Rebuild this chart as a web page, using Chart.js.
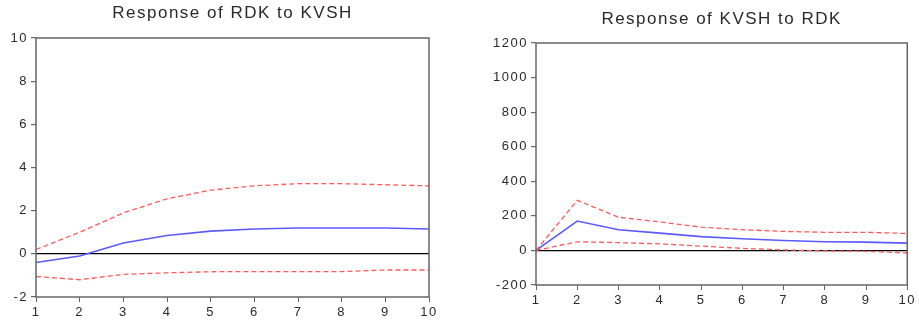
<!DOCTYPE html>
<html>
<head>
<meta charset="utf-8">
<script src="https://cdn.jsdelivr.net/npm/chart.js@4"></script>
<style>
  body { margin: 0; background: #fff; }
  .box { position: absolute; top: 0; height: 324px; }
</style>
</head>
<body>
<div class="box" style="left:0;width:460px"><canvas id="left" width="460" height="324"></canvas></div>
<div class="box" style="left:460px;width:459px"><canvas id="right" width="459" height="324"></canvas></div>
<script>
// impulse response periods
const periods = ["1", "2", "3", "4", "5", "6", "7", "8", "9", "10"];

// Response of RDK to KVSH
const rdkResp  = [-0.4, -0.1, 0.5, 0.85, 1.05, 1.15, 1.2, 1.2, 1.2, 1.15];
const rdkUpper = [0.2, 1.0, 1.9, 2.55, 2.95, 3.15, 3.25, 3.25, 3.2, 3.15];
const rdkLower = [-1.05, -1.2, -0.95, -0.88, -0.83, -0.82, -0.82, -0.82, -0.75, -0.75];

// Response of KVSH to RDK
const kvshResp  = [0, 170, 120, 100, 80, 68, 57, 50, 48, 42];
const kvshUpper = [0, 290, 192, 165, 135, 120, 110, 105, 105, 98];
const kvshLower = [0, 50, 45, 38, 25, 12, 3, -3, -5, -15];

const frameColor = '#666';
const textColor = '#2a2a2a';

const spacing = {
    id: 'spacing',
    beforeUpdate(chart) { chart.ctx.letterSpacing = '1.5px'; },
    beforeDraw(chart) { chart.ctx.letterSpacing = '1.5px'; }
};

const frame = {
    id: 'frame',
    afterDraw(chart) {
        const a = chart.chartArea;
        const c = chart.ctx;
        c.save();
        c.strokeStyle = frameColor;
        c.lineWidth = 1.5;
        c.strokeRect(a.left, a.top, a.right - a.left, a.bottom - a.top);
        c.restore();
    }
};

function irfChart(id, title, resp, upper, lower, yMin, yMax, yStep, yWidth, xHeight, padRight, titlePad) {
    const ctx = document.getElementById(id).getContext('2d');
    return new Chart(ctx, {
        type: 'line',
        data: {
            labels: periods,
            datasets: [
                { data: upper, borderColor: '#ff5a5a', borderWidth: 1.3, borderDash: [5, 3], pointRadius: 0, tension: 0 },
                { data: lower, borderColor: '#ff5a5a', borderWidth: 1.3, borderDash: [5, 3], pointRadius: 0, tension: 0 },
                { data: resp, borderColor: '#5a5aff', borderWidth: 1.6, pointRadius: 0, tension: 0 }
            ]
        },
        options: {
            responsive: false,
            animation: false,
            layout: { padding: { left: 0, right: padRight, top: 0, bottom: 0 } },
            scales: {
                x: {
                    offset: false,
                    grid: { display: true, drawOnChartArea: false, drawTicks: true, tickLength: 5, tickColor: frameColor },
                    border: { display: false },
                    ticks: { color: textColor, font: { family: 'Liberation Sans', size: 13 }, padding: 3, maxRotation: 0, autoSkip: false },
                    afterFit(scale) { scale.height = xHeight; }
                },
                y: {
                    min: yMin,
                    max: yMax,
                    grid: {
                        color: c => c.tick && c.tick.value === 0 ? '#000' : 'transparent',
                        lineWidth: 1.2,
                        drawTicks: true,
                        tickLength: 5,
                        tickColor: frameColor
                    },
                    border: { display: false },
                    ticks: {
                        stepSize: yStep,
                        color: textColor,
                        font: { family: 'Liberation Sans', size: 13 },
                        padding: 3,
                        callback: v => String(v)
                    },
                    afterFit(scale) { scale.width = yWidth; }
                }
            },
            plugins: {
                legend: { display: false },
                tooltip: { enabled: false },
                title: {
                    display: true,
                    text: title,
                    fullSize: false,
                    color: textColor,
                    font: { family: 'Liberation Sans', size: 17, weight: 'normal' },
                    padding: titlePad
                }
            }
        },
        plugins: [spacing, frame]
    });
}

irfChart('left', 'Response of RDK to KVSH', rdkResp, rdkUpper, rdkLower, -2, 10, 2, 36, 27, 31, { top: 3, bottom: 14.6 });
irfChart('right', 'Response of KVSH to RDK', kvshResp, kvshUpper, kvshLower, -200, 1200, 200, 76, 39, 8, { top: 9, bottom: 13.6 });
</script>
</body>
</html>
